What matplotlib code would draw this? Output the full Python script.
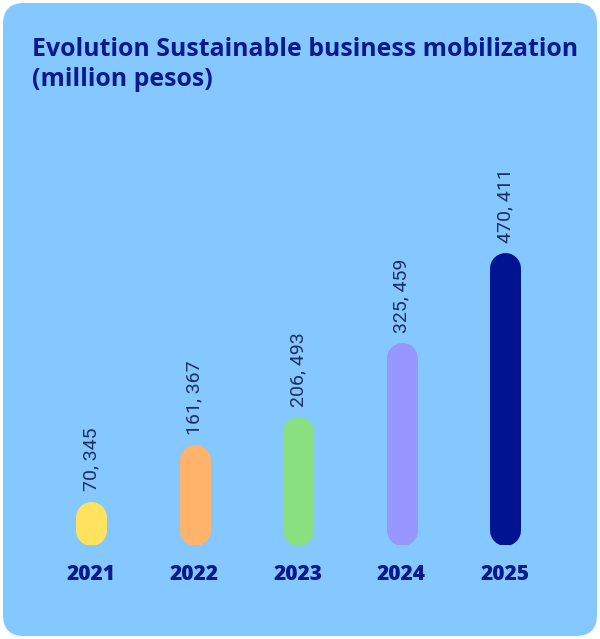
import matplotlib
matplotlib.use("Agg")
import matplotlib.pyplot as plt
from matplotlib.patches import FancyBboxPatch

years = ["2021", "2022", "2023", "2024", "2025"]
values = [70345, 161367, 206493, 325459, 470411]
value_labels = ["70, 345", "161, 367", "206, 493", "325, 459", "470, 411"]
bar_colors = ["#FFE35E", "#FFB36B", "#88E080", "#9896FF", "#001391"]

W, H, DPI = 600, 639, 100
fig = plt.figure(figsize=(W / DPI, H / DPI), dpi=DPI)
fig.patch.set_facecolor("white")

# rounded card background
card = FancyBboxPatch((3 / W, 3 / H), 594 / W, 633 / H,
                      boxstyle="round,pad=0,rounding_size=0.035",
                      transform=fig.transFigure, facecolor="#85C8FF",
                      edgecolor="none", mutation_aspect=W / H, zorder=-5)
fig.patches.append(card)

title_kw = dict(ha="left", va="center", fontsize=17.9, fontweight="bold",
                color="#0A1A8C", family="Open Sans")
fig.text(32 / W, 1 - 50 / H, "Evolution Sustainable business mobilization", **title_kw)
fig.text(32 / W, 1 - 80 / H, "(million pesos)", **title_kw)

# plotting area in pixel terms
left_px, base_px, top_px = 39.25, 545, 100
step_px = 103.5
ax_h = base_px - top_px
ax = fig.add_axes([left_px / W, (H - base_px) / H, 5 * step_px / W, ax_h / H])
ax.set_xlim(-0.5, 4.5)
ymax = max(values) * ax_h / 292
ax.set_ylim(0, ymax)
ax.axis("off")
ax.patch.set_alpha(0)

bar_w_px = 31
units_per_px = ymax / ax_h
r = bar_w_px / 2 * units_per_px
lw_pt = bar_w_px * 72 / DPI

for i, (v, c, lab) in enumerate(zip(values, bar_colors, value_labels)):
    ax.plot([i, i], [r, v - r], color=c, lw=lw_pt, solid_capstyle="round")
    ax.text(i, v + 10 * units_per_px, lab, rotation=90, ha="center", va="bottom",
            fontsize=14, color="#1E2F5E", family="Roboto", fontweight="normal")
    ax.text(i, -30 * units_per_px, years[i], ha="center", va="center",
            fontsize=15, fontweight="heavy", color="#0A1A8C", family="Open Sans",
            clip_on=False)

fig.savefig("out.png", dpi=DPI)
